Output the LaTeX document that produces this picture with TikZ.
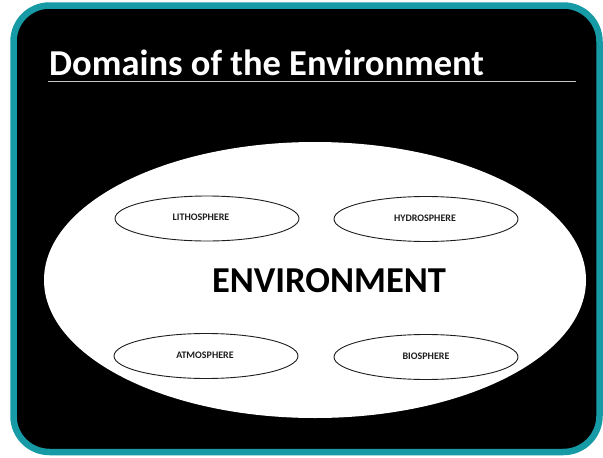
\documentclass[tikz,border=0pt]{standalone}
\usepackage{fontspec}
\setmainfont{Carlito}
\usetikzlibrary{shapes.geometric}
\definecolor{frameteal}{RGB}{22,155,166}
\definecolor{ruleg}{RGB}{200,200,200}
\definecolor{inkdark}{RGB}{30,30,30}
\tikzset{
  domainell/.style={ellipse, draw=inkdark, line width=0.9pt, fill=white, minimum width=184pt, minimum height=45pt, inner sep=0pt},
  domtext/.style={text=inkdark, font=\bfseries\fontsize{10}{11}\selectfont, inner sep=0pt},
}
\begin{document}
\begin{tikzpicture}[x=1pt,y=-1pt]
\useasboundingbox (0,0) rectangle (603,458);
\fill[white] (0,0) rectangle (603,458);
\draw[frameteal, line width=6.5pt, fill=black, rounded corners=36pt] (13.5,5.5) rectangle (599.5,452);
\node[anchor=base west, text=white, inner sep=0pt, font=\bfseries\fontsize{36.5}{37}\selectfont] (title) at (49,75.5) {Domains of the Environment};
\coordinate (ulA) at (48,81.5);
\coordinate (ulB) at (576,81.5);
\draw[ruleg, line width=1.4pt] (ulA) -- (ulB);
\node[ellipse, fill=white, minimum width=542pt, minimum height=276pt, inner sep=0pt] (env) at (315,280) {};
\node[text=black, inner sep=0pt, font=\bfseries\fontsize{36.5}{37}\selectfont] (envtext) at (329,281) {ENVIRONMENT};
\node[domainell] (litho) at (207,218.5) {};
\node[domainell] (hydro) at (426,219) {};
\node[domainell] (atmo) at (206,356) {};
\node[domainell] (bio) at (426,357) {};
\node[domtext] (lithot) at (201,217) {LITHOSPHERE};
\node[domtext] (hydrot) at (425,218) {HYDROSPHERE};
\node[domtext] (atmot) at (205,355) {ATMOSPHERE};
\node[domtext] (biot) at (426,356) {BIOSPHERE};
\end{tikzpicture}
\end{document}
